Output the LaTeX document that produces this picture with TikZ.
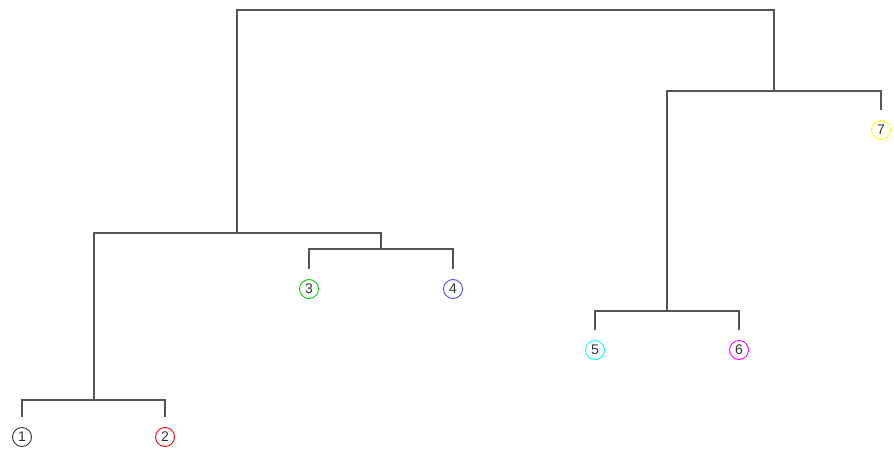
\documentclass[tikz,border=0pt]{standalone}
\usepackage{fontspec}
\setmainfont{Liberation Sans}
\definecolor{green3}{HTML}{00CD00}
\definecolor{edgegray}{HTML}{555555}
\definecolor{cyanleaf}{HTML}{00FFFF}
\definecolor{magentaleaf}{HTML}{FF00FF}
\definecolor{yellowleaf}{HTML}{FFFF00}
\begin{document}
\begin{tikzpicture}[x=1pt,y=-1pt,
  leaf/.style={circle,draw=#1,line width=0.9pt,minimum size=19pt,inner sep=0pt,
    font=\fontsize{14}{14}\selectfont,text=black!80},
  branch/.style={draw=edgegray,line width=1.1pt},
  tostem/.style={branch,shorten >=10pt}]
\useasboundingbox (0,0) rectangle (894,452);
% leaves
\node[leaf=black!80] (l1) at (22,437) {1};
\node[leaf=red] (l2) at (165,437) {2};
\node[leaf=green3] (l3) at (309,289) {3};
\node[leaf=blue!70] (l4) at (453,289) {4};
\node[leaf=cyanleaf] (l5) at (595,350) {5};
\node[leaf=magentaleaf] (l6) at (739,350) {6};
\node[leaf=yellowleaf] (l7) at (881,130) {7};
% merge heights
\coordinate (m12) at (94,400);
\coordinate (m34) at (381,249);
\coordinate (m1234) at (237,233);
\coordinate (m56) at (667,311);
\coordinate (m567) at (774,91);
\coordinate (top) at (505,10);
% branches
\draw[tostem] (m12) -| (l1.north);
\draw[tostem] (m12) -| (l2.north);
\draw[tostem] (m34) -| (l3.north);
\draw[tostem] (m34) -| (l4.north);
\draw[tostem] (m56) -| (l5.north);
\draw[tostem] (m56) -| (l6.north);
\draw[tostem] (m567) -| (l7.north);
\draw[branch] (m1234) -| (m12);
\draw[branch] (m1234) -| (m34);
\draw[branch] (m567) -| (m56);
\draw[branch] (top) -| (m1234);
\draw[branch] (top) -| (m567);
\end{tikzpicture}
\end{document}
